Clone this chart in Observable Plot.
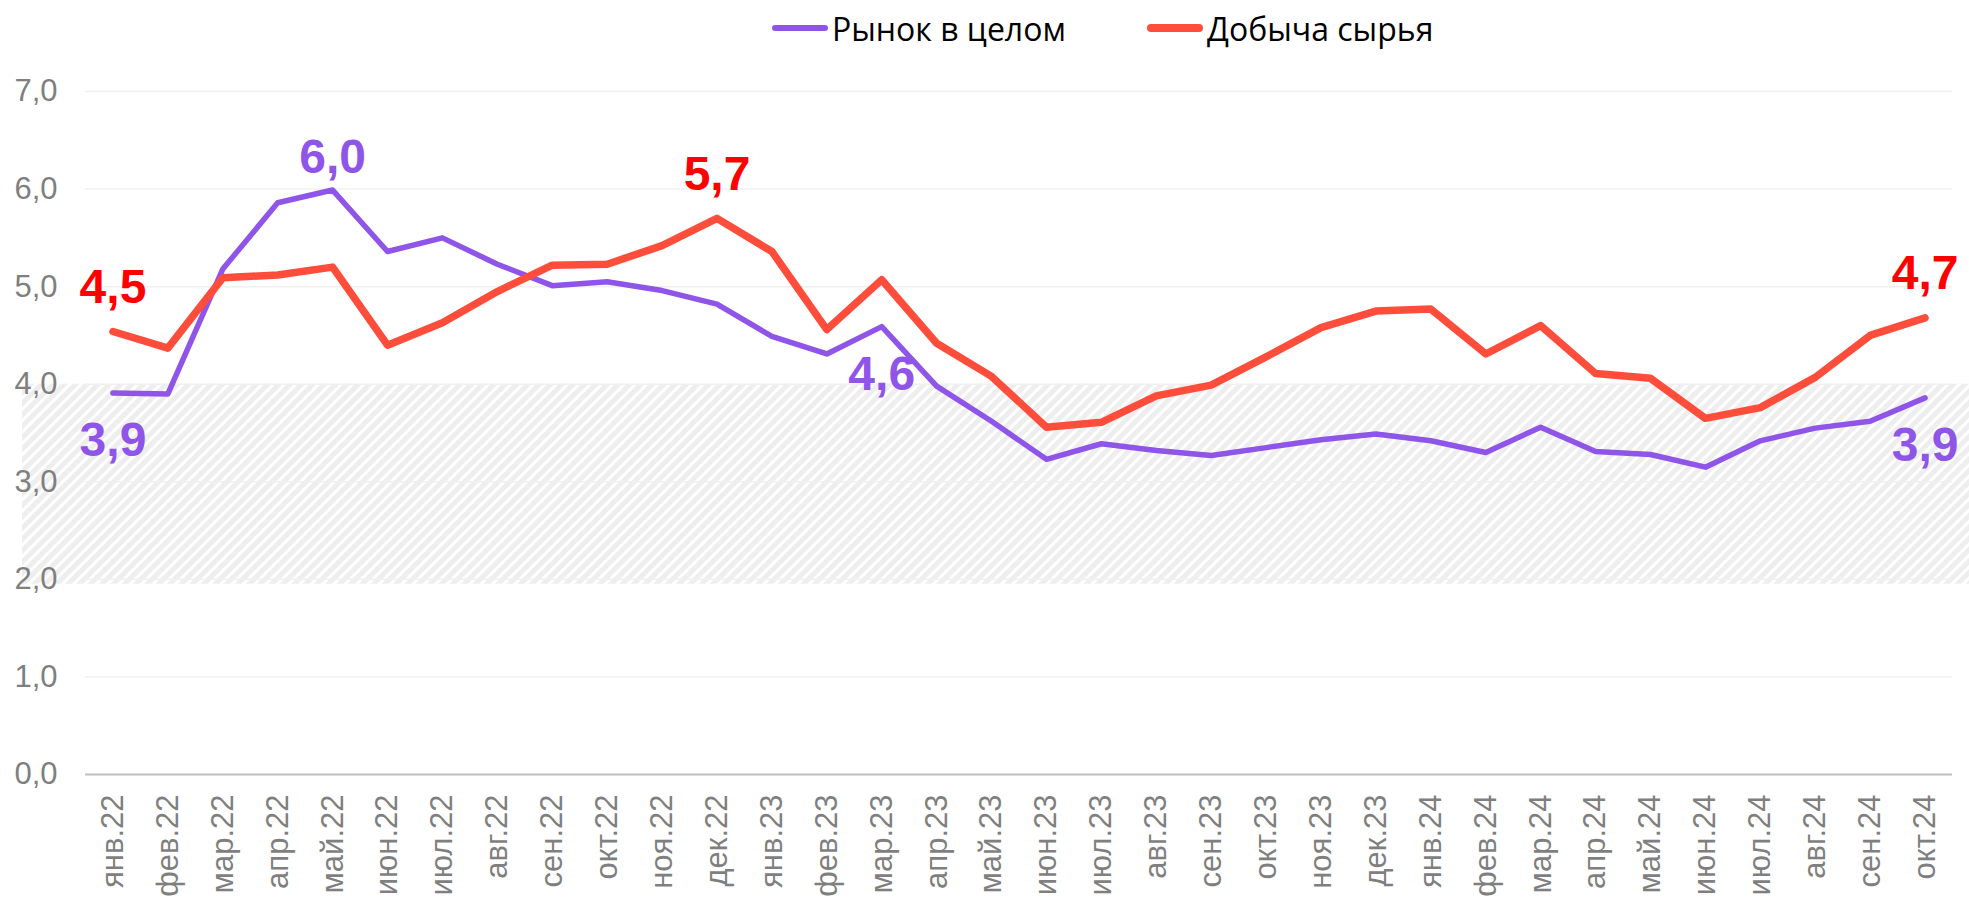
<!DOCTYPE html>
<html><head><meta charset="utf-8">
<script src="https://cdn.jsdelivr.net/npm/d3@7"></script>
<script src="https://cdn.jsdelivr.net/npm/@observablehq/plot@0.6"></script>
<style>
body{margin:0;background:#fff;}
#legend{height:56px;position:relative;font-family:"Open Sans",sans-serif;font-size:32px;color:#000;}
.item{position:absolute;top:0;height:56px;display:flex;align-items:center;white-space:nowrap;}
.sw{display:inline-block;width:56px;border-radius:4px;margin-right:4px;}
</style></head><body>
<div id="legend"></div>
<div id="chart"></div>
<script>
const months = ["янв.22","фев.22","мар.22","апр.22","май.22","июн.22","июл.22","авг.22","сен.22","окт.22","ноя.22","дек.22",
  "янв.23","фев.23","мар.23","апр.23","май.23","июн.23","июл.23","авг.23","сен.23","окт.23","ноя.23","дек.23",
  "янв.24","фев.24","мар.24","апр.24","май.24","июн.24","июл.24","авг.24","сен.24","окт.24"];
const market = [3.91,3.90,5.18,5.86,5.99,5.36,5.50,5.23,5.01,5.05,4.96,4.82,
  4.49,4.31,4.59,3.98,3.62,3.23,3.39,3.32,3.27,3.35,3.43,3.49,
  3.42,3.30,3.56,3.31,3.28,3.15,3.42,3.55,3.62,3.86];
const mining = [4.54,4.37,5.09,5.12,5.20,4.40,4.63,4.95,5.22,5.23,5.42,5.70,
  5.36,4.56,5.07,4.42,4.08,3.56,3.61,3.88,3.99,4.28,4.58,4.75,
  4.77,4.31,4.60,4.11,4.06,3.65,3.76,4.07,4.50,4.68];
const seriesNames = ["Рынок в целом","Добыча сырья"];
const yTicks = [0,1,2,3,4,5,6,7];
const gridValues = [1,2,3,4,5,6,7];
const targetBand = [{low: 1.95, high: 4}];
const marketLabelsBelow = ["янв.22","мар.23","окт.24"];
const marketLabelsAbove = ["май.22"];
const miningLabelsAbove = ["янв.22","дек.22","окт.24"];

const colMarket = "#8f55e8", colMining = "#ff4d3c", colMiningLabel = "#ff0000";
const fmt = v => v.toFixed(1).replace(".", ",");

const marketRows = months.map((m,i)=>({m, v: market[i]}));
const miningRows = months.map((m,i)=>({m, v: mining[i]}));

// legend
const legend = document.getElementById("legend");
[[seriesNames[0], colMarket, 6, 772],[seriesNames[1], colMining, 8, 1147]].forEach(([name,col,h,left])=>{
  const it = document.createElement("div"); it.className="item"; it.style.left=left+"px";
  const sw = document.createElement("span"); sw.className="sw"; sw.style.background=col; sw.style.height=h+"px";
  const t = document.createElement("span"); t.textContent=name;
  it.appendChild(sw); it.appendChild(t); legend.appendChild(it);
});

const chart = Plot.plot({
  width: 1969, height: 842,
  marginLeft: 85, marginRight: 17, marginTop: 35, marginBottom: 124,
  x: {type: "point", domain: months, padding: 0.5, label: null},
  y: {domain: [0,7], label: null},
  style: {fontFamily: "'Liberation Sans', Arial, sans-serif", background: "#fff", overflow: "visible"},
  marks: [
    Plot.rect(targetBand, {y1: "low", y2: "high", fill: "url(#hatch)", insetLeft: -63, insetRight: -17}),
    Plot.ruleY(gridValues, {stroke: "#f0f0f0", strokeWidth: 1.5}),
    Plot.ruleY([0], {stroke: "#bfbfbf", strokeWidth: 2}),
    Plot.axisY(yTicks, {tickSize: 0, tickPadding: 28, tickFormat: fmt, fontSize: 31, color: "#7f7f7f"}),
    Plot.axisX({tickSize: 0, tickPadding: 20, tickRotate: -90, fontSize: 31, color: "#7f7f7f"}),
    Plot.line(marketRows, {x: "m", y: "v", stroke: colMarket, strokeWidth: 5.5, strokeLinecap: "round", strokeLinejoin: "round"}),
    Plot.line(miningRows, {x: "m", y: "v", stroke: colMining, strokeWidth: 7.5, strokeLinecap: "round", strokeLinejoin: "round"}),
    Plot.text(miningRows.filter(d=>miningLabelsAbove.includes(d.m)), {x: "m", y: "v", text: d=>fmt(d.v), dy: -44, fill: colMiningLabel, fontSize: 48, fontWeight: "bold"}),
    Plot.text(marketRows.filter(d=>marketLabelsBelow.includes(d.m)), {x: "m", y: "v", text: d=>fmt(d.v), dy: 48, fill: colMarket, fontSize: 48, fontWeight: "bold"}),
    Plot.text(marketRows.filter(d=>marketLabelsAbove.includes(d.m)), {x: "m", y: "v", text: d=>fmt(d.v), dy: -32, fill: colMarket, fontSize: 48, fontWeight: "bold"})
  ]
});
const svg = d3.select(chart);
const defs = svg.insert("defs", ":first-child");
const p = defs.append("pattern").attr("id","hatch").attr("patternUnits","userSpaceOnUse")
  .attr("width",8).attr("height",8).attr("patternTransform","rotate(45)");
p.append("rect").attr("width",8).attr("height",8).attr("fill","#eeeeee");
p.append("rect").attr("width",3).attr("height",8).attr("fill","#ffffff");
document.getElementById("chart").appendChild(chart);
</script>
</body></html>
